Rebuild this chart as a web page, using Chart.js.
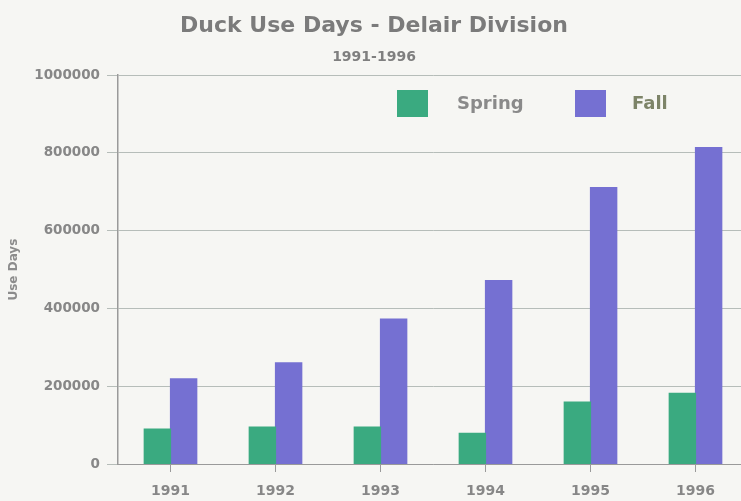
<!DOCTYPE html>
<html>
<head>
<meta charset="utf-8">
<title>Duck Use Days - Delair Division</title>
<script src="https://cdn.jsdelivr.net/npm/chart.js@4.4.0/dist/chart.umd.min.js"></script>
<style>
  html, body { margin: 0; padding: 0; background: #f6f6f3; overflow: hidden; }
  #box { width: 750px; height: 501px; }
</style>
</head>
<body>
<div id="box"><canvas id="myChart"></canvas></div>
<script>
    // данные по годам
    let years = ['1991', '1992', '1993', '1994', '1995', '1996'];
    let spring = [90000, 95000, 95000, 79000, 159000, 182000];
    let fall = [219000, 260000, 373000, 472000, 711000, 814000];
    let yTicks = [0, 200000, 400000, 600000, 800000, 1000000];

    let fontName = '"DejaVu Sans", "Liberation Sans", Arial, sans-serif';
    let grayText = '#878787';

    // легенда внутри области графика, справа сверху
    let boxLegend = {
        id: 'boxLegend',
        afterDraw(chart) {
            let ctx = chart.ctx;
            let boxX = [397, 575];
            let textX = [457, 632];
            let textColor = ['#8a8a8a', '#7d8468'];
            ctx.save();
            ctx.font = 'bold 18px ' + fontName;
            ctx.textBaseline = 'middle';
            chart.data.datasets.forEach(function(ds, i) {
                ctx.fillStyle = ds.backgroundColor;
                ctx.fillRect(boxX[i], 90, 31, 27);
                ctx.fillStyle = textColor[i];
                ctx.fillText(ds.label, textX[i], 104);
            });
            ctx.restore();
        }
    };

    let ctx = document.getElementById('myChart');
    let myChart = new Chart(ctx, {
        type: 'bar',
        data: {
            labels: years,
            datasets: [{
                label: 'Spring',
                data: spring,
                backgroundColor: 'rgb(58, 170, 128)',
                borderWidth: 0,
                inflateAmount: 0.6,
                categoryPercentage: 0.5,
                barPercentage: 1.0
            }, {
                label: 'Fall',
                data: fall,
                backgroundColor: 'rgb(117, 112, 210)',
                borderWidth: 0,
                inflateAmount: 0.6,
                categoryPercentage: 0.5,
                barPercentage: 1.0
            }]
        },
        options: {
            responsive: true,
            maintainAspectRatio: false,
            animation: false,
            layout: { padding: { left: 0, right: 2, top: 0, bottom: 0 } },
            plugins: {
                legend: { display: false },
                tooltip: { enabled: false },
                title: {
                    display: true,
                    text: 'Duck Use Days - Delair Division',
                    color: '#7b7b7b',
                    font: { family: fontName, size: 22, weight: 'bold' },
                    padding: { top: 13, bottom: 7 }
                },
                subtitle: {
                    display: true,
                    text: '1991-1996',
                    color: '#7f7f7f',
                    font: { family: fontName, size: 14, weight: 'bold' },
                    padding: { top: 3, bottom: 9 }
                }
            },
            scales: {
                x: {
                    grid: {
                        display: true,
                        drawOnChartArea: false,
                        drawTicks: true,
                        offset: false,
                        tickLength: 8,
                        color: '#9a9a9a'
                    },
                    border: { display: true, color: '#9a9a9a' },
                    ticks: {
                        color: grayText,
                        padding: 11,
                        font: { family: fontName, size: 14, weight: 'bold' }
                    },
                    afterFit: function(scale) { scale.height = 37; }
                },
                y: {
                    min: 0,
                    max: 1000000,
                    afterBuildTicks: function(scale) {
                        scale.ticks = yTicks.map(function(v) { return { value: v }; });
                    },
                    ticks: {
                        color: grayText,
                        padding: 7,
                        font: { family: fontName, size: 13.5, weight: 'bold' },
                        callback: function(value) { return String(value); }
                    },
                    grid: {
                        color: '#b6bdb9',
                        tickLength: 11
                    },
                    border: { display: true, color: '#9a9a9a', width: 1.5 },
                    title: {
                        display: true,
                        text: 'Use Days',
                        color: '#8c8c8c',
                        font: { family: fontName, size: 12, weight: 'bold' },
                        padding: { top: 7, bottom: 0 }
                    },
                    afterFit: function(scale) { scale.width = 118; }
                }
            }
        },
        plugins: [boxLegend]
    });
</script>
</body>
</html>
